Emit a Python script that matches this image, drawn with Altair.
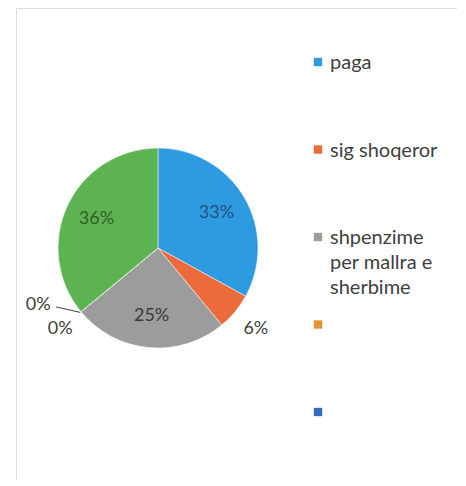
import altair as alt
import pandas as pd

# slice data (clockwise from 12 o'clock)
slice_names = ["paga", "sig shoqeror", "shpenzime per mallra e sherbime", "seria 4", "seria 5", "seria 6"]
slice_values = [33, 6, 25, 0, 0, 36]
slice_colors = ["#2e9be0", "#ec6a3b", "#9c9c9c", "#e8922f", "#3568c0", "#5db352"]
label_colors = ["#24507e", "#404040", "#3a3a3a", "#404040", "#404040", "#2f5f2b"]

# legend entries (legend shows only the first five series)
legend_labels = ["paga", "sig shoqeror", "shpenzime\nper mallra e\nsherbime", "", ""]
legend_colors = slice_colors[:5]

pie_df = pd.DataFrame({
    "idx": list(range(len(slice_names))),
    "name": slice_names,
    "value": slice_values,
})
leg_df = pd.DataFrame({
    "lid": list(range(len(legend_labels))),
    "label": legend_labels,
    "color": legend_colors,
})

CX, CY, R = 142, 240, 100
FONT = "Lato"

base = alt.Chart(pie_df).transform_window(
    cum="sum(value)", sort=[alt.SortField("idx")]
).transform_calculate(
    mid="datum.cum - datum.value / 2",
    txt="datum.value + '%'",
)

theta_mid = alt.Theta("mid:Q", stack=None, scale=alt.Scale(domain=[0, 100]))

arcs = alt.Chart(pie_df).mark_arc(outerRadius=R, stroke="white", strokeWidth=0.5).encode(
    theta=alt.Theta("value:Q", stack=True, scale=alt.Scale(domain=[0, 100])),
    color=alt.Color("name:N", scale=alt.Scale(domain=slice_names, range=slice_colors), legend=None),
    order=alt.Order("idx:Q"),
    x=alt.value(CX), y=alt.value(CY),
)

inside = base.transform_filter("datum.value >= 10").mark_text(
    radius=68, fontSize=18, font=FONT
).encode(
    theta=theta_mid,
    text="txt:N",
    color=alt.Color("name:N", scale=alt.Scale(domain=slice_names, range=label_colors), legend=None),
    x=alt.value(CX), y=alt.value(CY),
)

outside = base.transform_filter("datum.value < 10 && datum.idx != 4").mark_text(
    radius=127, fontSize=18, font=FONT, color="#404040"
).encode(
    theta=theta_mid, text="txt:N", x=alt.value(CX), y=alt.value(CY),
)

# the second zero-slice label, moved aside with a leader line
moved = base.transform_filter("datum.idx == 4").mark_text(
    radius=127, fontSize=18, font=FONT, color="#404040", dx=-22, dy=-24
).encode(
    theta=theta_mid, text="txt:N", x=alt.value(CX), y=alt.value(CY),
)

leader = base.transform_filter("datum.idx == 4").transform_calculate(
    ang="datum.mid / 100 * 2 * PI",
    xe=f"{CX} + {R + 1} * sin(datum.ang)",
    ye=f"{CY} - {R + 1} * cos(datum.ang)",
    xs=f"{CX} + 127 * sin(datum.ang) - 4",
    ys=f"{CY} - 127 * cos(datum.ang) - 22",
).mark_rule(color="#404040", strokeWidth=1).encode(
    x=alt.X("xs:Q", scale=None), y=alt.Y("ys:Q", scale=None),
    x2="xe:Q", y2="ye:Q",
)

ly = alt.Y("lid:O", scale=alt.Scale(type="point", range=[54, 404], padding=0), axis=None)

leg_sq = alt.Chart(leg_df).mark_square(size=70, opacity=1).encode(
    x=alt.value(302), y=ly,
    color=alt.Color("color:N", scale=None),
)
leg_txt = alt.Chart(leg_df).mark_text(
    align="left", baseline="top", dy=-9, fontSize=20, font=FONT,
    lineBreak="\n", lineHeight=25, color="#404040"
).encode(
    x=alt.value(314), y=ly, text="label:N",
)

chart = alt.layer(arcs, inside, outside, moved, leader, leg_sq, leg_txt).resolve_scale(
    color="independent", theta="independent"
).properties(
    width=441, height=472,
    padding={"left": 8, "top": 0, "right": 0, "bottom": 0},
    autosize=alt.AutoSizeParams(type="none"),
).configure_view(stroke="#d6d6d6", strokeWidth=1).configure(background="white")

chart.save("out.html", embed_options={"renderer": "svg", "actions": False})
